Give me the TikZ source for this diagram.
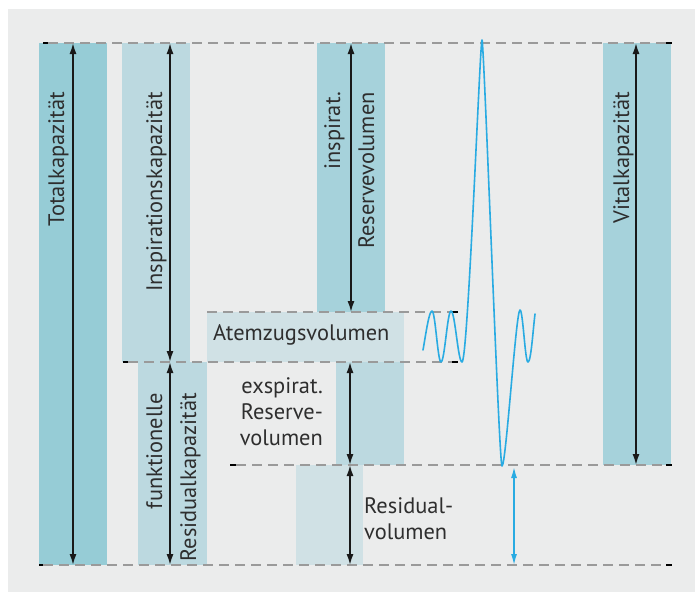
\documentclass[tikz,border=0pt]{standalone}
\usepackage{fontspec}
\setmainfont{PT Sans}
\usetikzlibrary{arrows.meta}
\definecolor{panel}{HTML}{EBECEC}
\definecolor{tealA}{HTML}{96CCD6}
\definecolor{tealB}{HTML}{A6D2DB}
\definecolor{tealC}{HTML}{BCD9E0}
\definecolor{tealD}{HTML}{D0E1E5}
\definecolor{dashgray}{HTML}{9A9A9A}
\definecolor{txt}{HTML}{2E2E2E}
\definecolor{curveblue}{HTML}{29ABE2}
\tikzset{
  dim/.style={line width=1.6pt, draw=black!90, {Latex[length=11pt,width=7pt]}-{Latex[length=11pt,width=7pt]}},
  bluedim/.style={line width=1.4pt, draw=curveblue, {Latex[length=11pt,width=6pt]}-{Latex[length=11pt,width=6pt]}},
  level/.style={draw=dashgray, line width=1.3pt, dash pattern=on 10pt off 6pt},
  endtick/.style={draw=black, line width=1.3pt},
  lbl/.style={inner sep=0pt, text=txt, font=\fontsize{22.4}{26}\selectfont},
  vlbl/.style={lbl, rotate=90, anchor=base east},
  breath/.style={draw=curveblue, line width=1.6pt, line join=round, line cap=round}
}
\begin{document}
\begin{tikzpicture}[x=1pt,y=-1pt]
\useasboundingbox (0,0) rectangle (695,592);
\fill[white] (0,0) rectangle (695,592);
\fill[panel] (8,9) rectangle (695,592);
% columns
\fill[tealA] (39,43) rectangle (107,565);
\fill[tealC] (122,43) rectangle (190,362);
\fill[tealB] (317,43) rectangle (385,312);
\fill[tealB] (603,43) rectangle (671,465);
\fill[tealD] (207,312) rectangle (404,362);
\fill[tealC] (336,362) rectangle (404,465);
\fill[tealC] (138,362) rectangle (207,565);
\fill[tealD] (296,465) rectangle (363,565);
% level lines
\draw[level] (48,43) -- (666,43);
\draw[level] (207,312) -- (452,312);
\draw[level] (128,362) -- (452,362);
\draw[level] (236,465) -- (666,465);
\draw[level] (43,565) -- (666,565);
\draw[endtick] (43,43) -- (48,43) (666,43) -- (672,43);
\draw[endtick] (452,312) -- (458,312);
\draw[endtick] (123,362) -- (128,362) (452,362) -- (458,362);
\draw[endtick] (230,465) -- (236,465) (666,465) -- (672,465);
\draw[endtick] (39,565) -- (43,565) (666,565) -- (672,565);
% arrow end points
\coordinate (tkTop) at (73,43);   \coordinate (tkBot) at (73,565);
\coordinate (ikTop) at (170,43);  \coordinate (ikBot) at (170,362);
\coordinate (irTop) at (351,43);  \coordinate (irBot) at (351,312);
\coordinate (vkTop) at (636,43);  \coordinate (vkBot) at (636,465);
\coordinate (frTop) at (170,362); \coordinate (frBot) at (170,565);
\coordinate (erTop) at (350,362); \coordinate (erBot) at (350,465);
\coordinate (rvTop) at (350,465); \coordinate (rvBot) at (350,565);
\coordinate (bvTop) at (514,467); \coordinate (bvBot) at (514,565);
\draw[dim] (tkTop) -- (tkBot);
\draw[dim] (ikTop) -- (ikBot);
\draw[dim] (irTop) -- (irBot);
\draw[dim] (vkTop) -- (vkBot);
\draw[dim] (frTop) -- (frBot);
\draw[dim] (erTop) -- (erBot);
\draw[dim] (rvTop) -- (rvBot);
\draw[bluedim] (bvTop) -- (bvBot);
% labels
\node[vlbl] (tk) at (64,92) {Totalkapazität};
\node[vlbl] (ik) at (162,92) {Inspirationskapazität};
\node[vlbl] (ir1) at (340,92) {inspirat.};
\node[vlbl] (ir2) at (374,92) {Reservevolumen};
\node[vlbl] (vk) at (629,92) {Vitalkapazität};
\node[vlbl] (fr1) at (162,393) {funktionelle};
\node[vlbl] (fr2) at (196,393) {Residualkapazität};
\node[lbl, anchor=base west] (az) at (213,340) {Atemzugsvolumen};
\node[lbl, anchor=base east, align=right] (er) at (323,445) {exspirat.\\Reserve-\\volumen};
\node[lbl, anchor=base west, align=left] (rv) at (364,539) {Residual-\\volumen};
% breathing curve
\draw[breath] (423,350) .. controls (426,333) and (429,311) .. (432,311)
  .. controls (435.3,311) and (437.7,362) .. (441,362)
  .. controls (444.6,362) and (447.4,311) .. (451,311)
  .. controls (455,311) and (458,362) .. (462,362)
  .. controls (468,362) and (480,40) .. (482,40)
  .. controls (484,40) and (499,466) .. (502,466)
  .. controls (506,466) and (516,310) .. (520,310)
  .. controls (523,310) and (525,362) .. (528,362)
  .. controls (531,362) and (533,330) .. (535,314);
\end{tikzpicture}
\end{document}
